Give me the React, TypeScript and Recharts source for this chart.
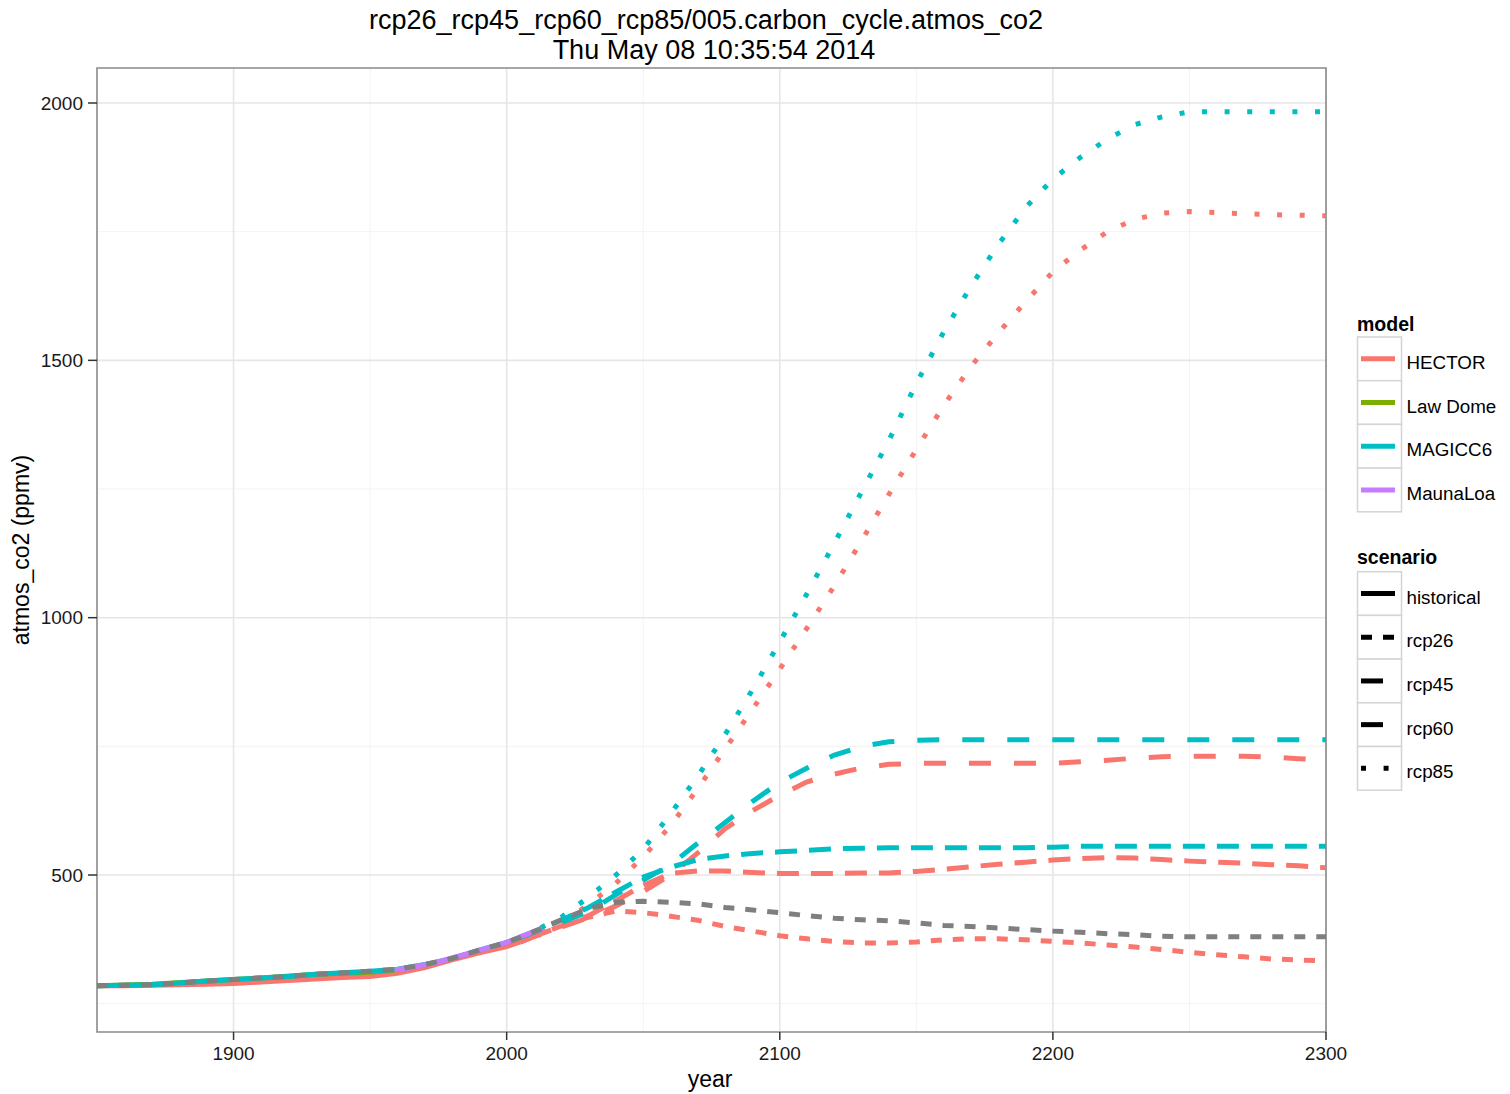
import React from 'react';
import { LineChart, Line, XAxis, YAxis, CartesianGrid, ReferenceArea } from 'recharts';

// ---------- data ----------
const histYears = [1850, 1860, 1870, 1880, 1890, 1900, 1910, 1920, 1930, 1940, 1950, 1960, 1970, 1980, 1990, 2000, 2005];
const hectorHist = [285, 285, 286, 287, 288, 289, 292, 295, 298, 301, 303, 309, 320, 335, 349, 361, 370];
const magiccHist = [285, 286, 287, 290, 294, 297, 300, 303, 307, 310, 313, 317, 326, 338, 354, 369, 379];

const lawDomeYears = [1850, 1870, 1890, 1910, 1930, 1950, 1960];
const lawDomeValues = [285, 288, 294, 300, 307, 311, 316];

const maunaLoaYears = [1959, 1965, 1970, 1975, 1980, 1985, 1990, 1995, 2000, 2005, 2010, 2013];
const maunaLoaValues = [316, 320, 326, 331, 339, 346, 354, 361, 369, 380, 390, 396];

const projYears = [2005, 2010, 2020, 2030, 2040, 2050, 2060, 2070, 2080, 2090, 2100, 2110, 2120, 2130, 2140, 2150,
  2160, 2170, 2180, 2190, 2200, 2210, 2220, 2230, 2240, 2250, 2260, 2270, 2280, 2290, 2300];

const hectorRcp26 = [370, 381, 400, 418, 430, 427, 420, 412, 400, 391, 382, 376, 371, 368, 368, 370,
  374, 376, 376, 374, 371, 368, 364, 360, 355, 350, 345, 341, 337, 335, 333];
const hectorRcp45 = [370, 381, 401, 421, 450, 480, 503, 508, 508, 505, 503, 503, 503, 504, 504, 507,
  511, 516, 521, 525, 529, 532, 534, 533, 530, 527, 525, 523, 520, 518, 514];
const hectorRcp60 = [370, 380, 399, 417, 440, 468, 500, 543, 590, 625, 655, 681, 696, 708, 715, 717,
  717, 717, 717, 717, 717, 720, 723, 727, 730, 731, 731, 731, 729, 726, 723];
const hectorRcp85 = [370, 382, 405, 443, 484, 535, 596, 668, 745, 822, 900, 980, 1062, 1150, 1240, 1327,
  1412, 1488, 1553, 1614, 1672, 1714, 1750, 1774, 1786, 1789, 1787, 1785, 1783, 1782, 1781];

const magiccRcp26 = [379, 390, 413, 435, 447, 449, 447, 444, 437, 432, 427, 421, 416, 413, 411, 407,
  402, 400, 397, 394, 391, 389, 386, 384, 381, 380, 380, 380, 380, 380, 380];
const magiccRcp45 = [379, 390, 412, 437, 467, 496, 515, 530, 537, 542, 545, 548, 551, 552, 553, 553,
  553, 553, 553, 553, 554, 556, 556, 556, 556, 556, 556, 556, 556, 556, 556];
const magiccRcp60 = [379, 389, 408, 429, 462, 490, 520, 562, 602, 643, 680, 708, 733, 750, 759, 762,
  763, 763, 763, 763, 763, 763, 763, 763, 763, 763, 763, 763, 763, 763, 763];
const magiccRcp85 = [379, 391, 418, 457, 500, 550, 619, 692, 773, 860, 953, 1047, 1145, 1245, 1345, 1455,
  1555, 1644, 1725, 1797, 1852, 1894, 1930, 1958, 1973, 1983, 1983, 1983, 1983, 1983, 1983];

const xTicks = [1900, 2000, 2100, 2200, 2300];
const xMinor = [1950, 2050, 2150, 2250];
const yTicks = [500, 1000, 1500, 2000];
const yMinor = [250, 750, 1250, 1750];

const models = ['HECTOR', 'Law Dome', 'MAGICC6', 'MaunaLoa'];
const modelColors = ['#F8766D', '#7CAE00', '#00BFC4', '#C77CFF'];
const scenarios = ['historical', 'rcp26', 'rcp45', 'rcp60', 'rcp85'];
const scenarioDash = ['', '11 11', '22 12', '22 23', '5 17.6'];
const naColor = '#7F7F7F';

// ---------- helpers ----------
const pts = (years: number[], values: number[]) => years.map((y, i) => ({ year: y, value: values[i] }));
const dashOf = (s: string) => scenarioDash[scenarios.indexOf(s)];
const colorOf = (m: string) => modelColors[models.indexOf(m)];

const series = [
  { id: 'h-hist', data: pts(histYears, hectorHist), color: colorOf('HECTOR'), dash: dashOf('historical') },
  { id: 'h-26', data: pts(projYears, hectorRcp26), color: colorOf('HECTOR'), dash: dashOf('rcp26') },
  { id: 'h-45', data: pts(projYears, hectorRcp45), color: colorOf('HECTOR'), dash: dashOf('rcp45') },
  { id: 'h-60', data: pts(projYears, hectorRcp60), color: colorOf('HECTOR'), dash: dashOf('rcp60') },
  { id: 'h-85', data: pts(projYears, hectorRcp85), color: colorOf('HECTOR'), dash: dashOf('rcp85') },
  { id: 'law', data: pts(lawDomeYears, lawDomeValues), color: colorOf('Law Dome'), dash: dashOf('historical') },
  { id: 'm-hist', data: pts(histYears, magiccHist), color: colorOf('MAGICC6'), dash: dashOf('historical') },
  { id: 'm-45', data: pts(projYears, magiccRcp45), color: colorOf('MAGICC6'), dash: dashOf('rcp45') },
  { id: 'm-60', data: pts(projYears, magiccRcp60), color: colorOf('MAGICC6'), dash: dashOf('rcp60') },
  { id: 'm-85', data: pts(projYears, magiccRcp85), color: colorOf('MAGICC6'), dash: dashOf('rcp85') },
  { id: 'mlo', data: pts(maunaLoaYears, maunaLoaValues), color: colorOf('MaunaLoa'), dash: dashOf('historical') },
  {
    id: 'm-26',
    data: pts(histYears.slice(0, -1).concat(projYears), magiccHist.slice(0, -1).concat(magiccRcp26)),
    color: naColor,
    dash: dashOf('rcp26'),
  },
];

const FONT = '"Liberation Sans", Arial, Helvetica, sans-serif';
const W = 1510;
const H = 1094;

function Legend() {
  const boxX = 1357.5;
  const boxW = 44;
  const modelTop = 337;
  const scenTop = 571.7;
  const step = 43.7;
  return (
    <g fontFamily={FONT}>
      <text x={1357} y={331} fontSize={19.5} fontWeight="bold" fill="#000">model</text>
      {models.map((m, i) => {
        const y0 = modelTop + i * step;
        const cy = y0 + step / 2;
        return (
          <g key={m}>
            <rect x={boxX} y={y0} width={boxW} height={step} fill="#fff" stroke="#d4d4d4" strokeWidth={1.5} />
            <line x1={1361} x2={1395} y1={cy} y2={cy} stroke={modelColors[i]} strokeWidth={5} />
            <text x={1406.5} y={cy + 10} fontSize={18.8} fill="#000">{m}</text>
          </g>
        );
      })}
      <text x={1357} y={564} fontSize={19.5} fontWeight="bold" fill="#000">scenario</text>
      {scenarios.map((s, i) => {
        const y0 = scenTop + i * step;
        const cy = y0 + step / 2;
        return (
          <g key={s}>
            <rect x={boxX} y={y0} width={boxW} height={step} fill="#fff" stroke="#d4d4d4" strokeWidth={1.5} />
            <line x1={1361} x2={1395} y1={cy} y2={cy} stroke="#000" strokeWidth={5}
              strokeDasharray={scenarioDash[i] || undefined} />
            <text x={1406.5} y={cy + 10} fontSize={18.8} fill="#000">{s}</text>
          </g>
        );
      })}
    </g>
  );
}

export default function App() {
  return (
    <div style={{ position: 'absolute', left: 0, top: 0, width: W, height: H, background: '#fff' }}>
      <LineChart width={W} height={H} margin={{ top: 68, right: 184, bottom: 0, left: 0 }}>
        <CartesianGrid stroke="#f3f3f3" strokeWidth={1} verticalValues={xMinor} horizontalValues={yMinor} />
        <CartesianGrid stroke="#e6e6e6" strokeWidth={1.6} verticalValues={xTicks} horizontalValues={yTicks} />
        <XAxis
          dataKey="year"
          type="number"
          domain={[1850, 2300]}
          ticks={xTicks}
          allowDataOverflow
          height={62}
          axisLine={false}
          tickSize={8}
          tickMargin={7}
          tickLine={{ stroke: '#333', strokeWidth: 1.5 }}
          tick={{ fontSize: 19, fill: '#1a1a1a', fontFamily: FONT }}
        />
        <YAxis
          type="number"
          domain={[195, 2068]}
          ticks={yTicks}
          allowDataOverflow
          width={97}
          axisLine={false}
          tickSize={9}
          tickMargin={5}
          tickLine={{ stroke: '#333', strokeWidth: 1.5 }}
          tick={{ fontSize: 19, fill: '#1a1a1a', fontFamily: FONT }}
        />
        {series.map((s) => (
          <Line
            key={s.id}
            data={s.data}
            dataKey="value"
            type="linear"
            stroke={s.color}
            strokeWidth={5}
            strokeDasharray={s.dash || undefined}
            strokeLinecap="butt"
            dot={false}
            activeDot={false}
            legendType="none"
            isAnimationActive={false}
          />
        ))}
        <ReferenceArea x1={1850} x2={2300} y1={195} y2={2068} fill="none" fillOpacity={0}
          stroke="#8a8a8a" strokeWidth={1.6} ifOverflow="visible" />
      </LineChart>
      <svg width={W} height={H} style={{ position: 'absolute', left: 0, top: 0, pointerEvents: 'none' }}>
        <g fontFamily={FONT} fill="#000">
          <text x={706} y={29} fontSize={27} textAnchor="middle">rcp26_rcp45_rcp60_rcp85/005.carbon_cycle.atmos_co2</text>
          <text x={714} y={59} fontSize={27} textAnchor="middle">Thu May 08 10:35:54 2014</text>
          <text x={710} y={1087} fontSize={23} textAnchor="middle">year</text>
          <text transform="translate(29,550) rotate(-90)" fontSize={23} textAnchor="middle">atmos_co2 (ppmv)</text>
        </g>
        <Legend />
      </svg>
    </div>
  );
}
